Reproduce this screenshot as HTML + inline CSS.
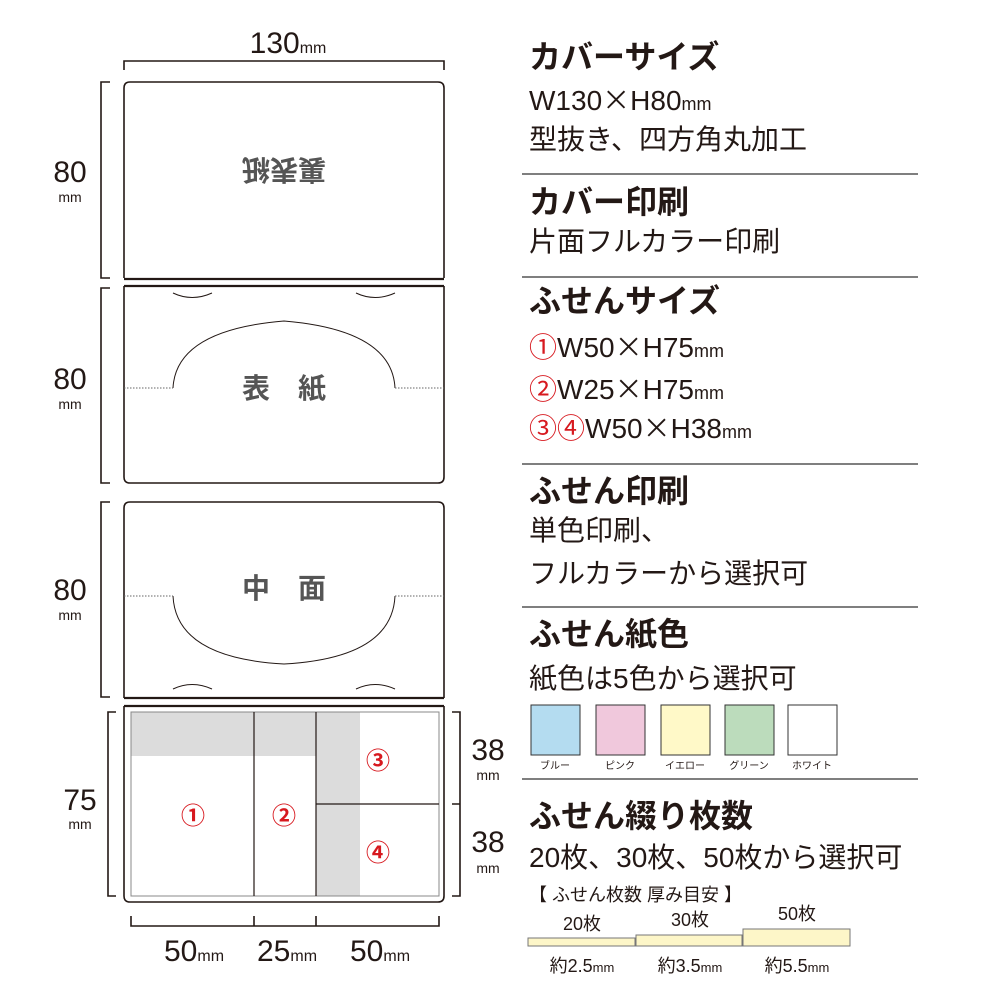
<!DOCTYPE html>
<html><head><meta charset="utf-8"><style>
html,body{margin:0;padding:0;background:#fff;}
svg{display:block;}
text{font-family:"Liberation Sans","Noto Sans CJK JP",sans-serif;fill:#231815;}
.h{font-size:32px;font-weight:bold;}
.b{font-size:28px;}
.r{fill:#d7191f;}
.x{font-family:"Noto Sans CJK JP",sans-serif;}
.g{fill:#555;font-weight:bold;font-size:28px;}
</style></head><body>
<svg width="1000" height="1000" viewBox="0 0 1000 1000" xmlns="http://www.w3.org/2000/svg">
<g fill="none" stroke="#231815" stroke-width="1.6">
<path d="M124 70V61H444V70"/>
<path d="M110 82H101V278H110"/>
<path d="M110 288H101V483H110"/>
<path d="M110 502H101V697H110"/>
<path d="M116 712H108V896H116"/>
<path d="M452 712H460V896H452M460 804H452"/>
<path d="M131 916V926H439V916M254 916V926M316 916V926"/>
<path d="M124 278V88Q124 82 130 82H438Q444 82 444 88V278"/>
<path d="M124 279H444M124 286H444" stroke-width="2.2"/>
<path d="M124 286V477Q124 483 130 483H438Q444 483 444 477V286"/>
<path d="M124 698V508Q124 502 130 502H438Q444 502 444 508V698"/>
<path d="M124 698H444M124 706H444" stroke-width="2.2"/>
<path d="M124 706V896Q124 902 130 902H438Q444 902 444 896V706"/>
</g>
<g fill="none" stroke="#231815" stroke-width="1">
<path d="M173 293Q192 302 212 293M356 293Q375 302 395 293"/>
<path d="M173 388Q176 330 284 321Q392 330 395 388"/>
<path d="M173 689Q192 680 212 689M356 689Q375 680 395 689"/>
<path d="M173 596Q176 658 284 664Q392 658 395 596"/>
<path d="M124 388H173M395 388H444M124 596H173M395 596H444" stroke-dasharray="1.5 1.5" stroke="#666"/>
</g>
<text class="g" x="284" y="180" text-anchor="middle" transform="rotate(180 284 170)">裏表紙</text>
<text class="g" x="284" y="398" text-anchor="middle">表　紙</text>
<text class="g" x="284" y="598" text-anchor="middle">中　面</text>
<rect x="131" y="712" width="185" height="44" fill="#dcdcdc"/>
<rect x="316" y="712" width="44" height="184" fill="#dcdcdc"/>
<rect x="131" y="712" width="308" height="184" fill="none" stroke="#888" stroke-width="1"/>
<path d="M254 712V896M316 712V896M316 804H439" stroke="#231815" stroke-width="1.2" fill="none"/>
<g font-size="24" font-weight="bold">
<text class="r" x="193" y="824" text-anchor="middle">①</text>
<text class="r" x="284" y="824" text-anchor="middle">②</text>
<text class="r" x="378" y="769" text-anchor="middle">③</text>
<text class="r" x="378" y="861" text-anchor="middle">④</text>
</g>
<text x="288" y="53" text-anchor="middle" font-size="30">130<tspan font-size="16">mm</tspan></text>
<g font-size="30" text-anchor="middle">
<text x="70" y="182">80</text><text x="70" y="389">80</text><text x="70" y="600">80</text><text x="80" y="810">75</text>
<text x="488" y="760">38</text><text x="488" y="852">38</text>
</g>
<g font-size="14" text-anchor="middle">
<text x="70" y="202">mm</text><text x="70" y="409">mm</text><text x="70" y="620">mm</text><text x="80" y="829">mm</text>
<text x="488" y="780">mm</text><text x="488" y="873">mm</text>
</g>
<g font-size="30">
<text x="164" y="961">50<tspan font-size="16">mm</tspan></text>
<text x="257" y="961">25<tspan font-size="16">mm</tspan></text>
<text x="350" y="961">50<tspan font-size="16">mm</tspan></text>
</g>
<g stroke="#555" stroke-width="1.5"><path d="M522 174H918M522 277H918M522 464H918M522 607H918M522 779H918"/></g>
<text class="h" x="529" y="68">カバーサイズ</text>
<text class="b" x="529" y="110">W130<tspan class="x">×</tspan>H80<tspan font-size="18">mm</tspan></text>
<text class="b" x="529" y="149">型抜き、四方角丸加工</text>
<text class="h" x="529" y="213">カバー印刷</text>
<text class="b" x="529" y="251">片面フルカラー印刷</text>
<text class="h" x="529" y="312">ふせんサイズ</text>
<text class="b" x="529" y="357"><tspan class="r x">①</tspan>W50<tspan class="x">×</tspan>H75<tspan font-size="18">mm</tspan></text>
<text class="b" x="529" y="399"><tspan class="r x">②</tspan>W25<tspan class="x">×</tspan>H75<tspan font-size="18">mm</tspan></text>
<text class="b" x="529" y="438"><tspan class="r x">③④</tspan>W50<tspan class="x">×</tspan>H38<tspan font-size="18">mm</tspan></text>
<text class="h" x="529" y="502">ふせん印刷</text>
<text class="b" x="529" y="540">単色印刷、</text>
<text class="b" x="529" y="583">フルカラーから選択可</text>
<text class="h" x="529" y="645">ふせん紙色</text>
<text class="b" x="529" y="688">紙色は5色から選択可</text>
<g stroke="#333" stroke-width="1">
<rect x="531" y="705" width="49" height="50" fill="#b4dcf0"/>
<rect x="596" y="705" width="49" height="50" fill="#f0c8dc"/>
<rect x="661" y="705" width="49" height="50" fill="#fff9c8"/>
<rect x="725" y="705" width="49" height="50" fill="#bcdcbc"/>
<rect x="788" y="705" width="49" height="50" fill="#fff"/>
</g>
<g font-size="10" text-anchor="middle">
<text x="555" y="769">ブルー</text><text x="620" y="769">ピンク</text><text x="685" y="769">イエロー</text><text x="749" y="769">グリーン</text><text x="812" y="769">ホワイト</text>
</g>
<text class="h" x="529" y="827">ふせん綴り枚数</text>
<text class="b" x="529" y="867">20枚、30枚、50枚から選択可</text>
<text x="529" y="901" font-size="18">【 ふせん枚数 厚み目安 】</text>
<g stroke="#777" stroke-width="1" fill="#fdf6c8">
<rect x="528" y="938" width="107" height="8"/>
<rect x="636" y="935" width="106" height="11"/>
<rect x="743" y="929" width="107" height="17"/>
</g>
<g font-size="18" text-anchor="middle">
<text x="582" y="930">20枚</text><text x="690" y="926">30枚</text><text x="797" y="920">50枚</text>
<text x="582" y="972">約2.5<tspan font-size="13">mm</tspan></text>
<text x="690" y="972">約3.5<tspan font-size="13">mm</tspan></text>
<text x="797" y="972">約5.5<tspan font-size="13">mm</tspan></text>
</g>
</svg>
</body></html>
